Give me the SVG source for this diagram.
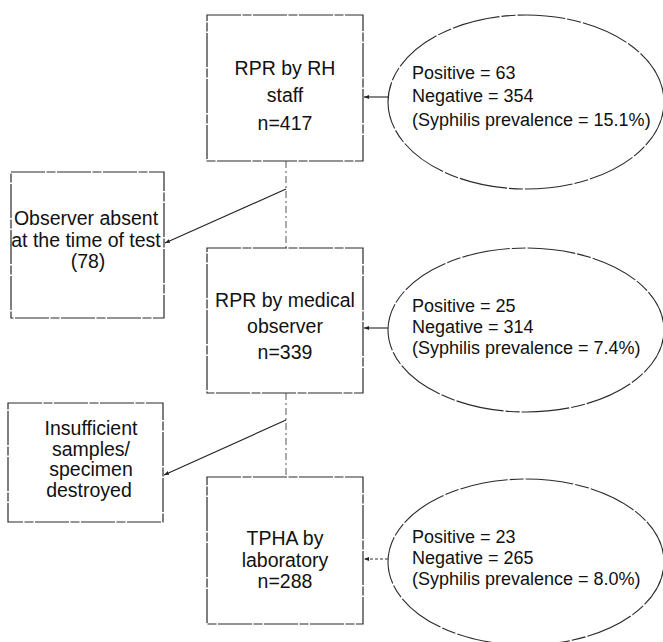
<svg xmlns="http://www.w3.org/2000/svg" width="663" height="642" viewBox="0 0 663 642">
<style>
.box{fill:none;stroke:#2a2a2a;stroke-width:1.2;stroke-dasharray:34 1.5 9 1.5}
.ell{fill:none;stroke:#2a2a2a;stroke-width:1.1;stroke-dasharray:48 2 14 2}
.ln{fill:none;stroke:#222;stroke-width:1.1}
.dash{fill:none;stroke:#555;stroke-width:1;stroke-dasharray:7 3 2 3}
.dot{fill:none;stroke:#333;stroke-width:1.1;stroke-dasharray:3 2}
.t{font-family:"Liberation Sans",Arial,sans-serif;fill:#111}
.bt{font-size:19.5px;text-anchor:middle}
.et{font-size:18px}
</style>
<defs>
<marker id="ah" markerWidth="6" markerHeight="6" refX="5" refY="3" orient="auto" markerUnits="userSpaceOnUse">
<path d="M0,1 L5,3 L0,5 Z" fill="#222"/>
</marker>
</defs>
<g id="connectors">
<line class="dash" x1="286" y1="161" x2="286" y2="248"/>
<line class="dash" x1="286" y1="393" x2="286" y2="477"/>
<line class="ln" x1="286" y1="189" x2="165" y2="243" marker-end="url(#ah)"/>
<line class="ln" x1="286" y1="420" x2="164" y2="475" marker-end="url(#ah)"/>
<line class="ln" x1="388" y1="97" x2="364" y2="97" marker-end="url(#ah)"/>
<line class="ln" x1="388" y1="328" x2="364" y2="328" marker-end="url(#ah)"/>
<line class="dot" x1="388" y1="559" x2="364" y2="559" marker-end="url(#ah)"/>
</g>
<g id="rh-staff">
<rect class="box" x="207" y="15" width="156" height="146"/>
<text class="t bt" x="285" y="75">RPR by RH</text>
<text class="t bt" x="285" y="102">staff</text>
<text class="t bt" x="285" y="130">n=417</text>
</g>
<g id="result1">
<ellipse class="ell" cx="526" cy="102" rx="138" ry="87"/>
<text class="t et" x="412" y="79">Positive = 63</text>
<text class="t et" x="412" y="102">Negative = 354</text>
<text class="t et" x="412" y="126">(Syphilis prevalence = 15.1%)</text>
</g>
<g id="observer-absent">
<rect class="box" x="11" y="172" width="153" height="146"/>
<text class="t bt" x="86" y="225">Observer absent</text>
<text class="t bt" x="86" y="247">at the time of test</text>
<text class="t bt" x="88" y="268">(78)</text>
</g>
<g id="medical-observer">
<rect class="box" x="207" y="248" width="156" height="145"/>
<text class="t bt" x="285" y="307">RPR by medical</text>
<text class="t bt" x="285" y="333">observer</text>
<text class="t bt" x="285" y="359">n=339</text>
</g>
<g id="result2">
<ellipse class="ell" cx="526" cy="330" rx="138" ry="82"/>
<text class="t et" x="412" y="312">Positive = 25</text>
<text class="t et" x="412" y="333">Negative = 314</text>
<text class="t et" x="412" y="354">(Syphilis prevalence = 7.4%)</text>
</g>
<g id="insufficient">
<rect class="box" x="8" y="403" width="155" height="119"/>
<text class="t bt" x="91" y="435">Insufficient</text>
<text class="t bt" x="91" y="456">samples/</text>
<text class="t bt" x="91" y="476">specimen</text>
<text class="t bt" x="89" y="497">destroyed</text>
</g>
<g id="tpha">
<rect class="box" x="207" y="477" width="156" height="147"/>
<text class="t bt" x="285" y="545">TPHA by</text>
<text class="t bt" x="285" y="567">laboratory</text>
<text class="t bt" x="285" y="588">n=288</text>
</g>
<g id="result3">
<ellipse class="ell" cx="526" cy="562" rx="138" ry="83"/>
<text class="t et" x="412" y="543">Positive = 23</text>
<text class="t et" x="412" y="564">Negative = 265</text>
<text class="t et" x="412" y="585">(Syphilis prevalence = 8.0%)</text>
</g>
</svg>
